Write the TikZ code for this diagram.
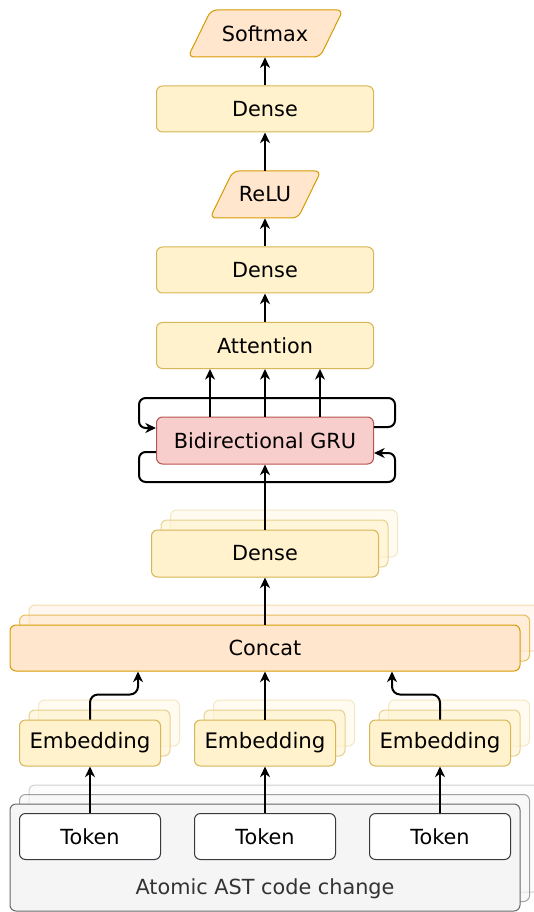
\documentclass[tikz,border=0pt]{standalone}
\usepackage{fontspec}
\setmainfont{DejaVu Sans}
\usetikzlibrary{arrows.meta,calc}

\definecolor{yelFill}{HTML}{FFF2CC}
\definecolor{yelLine}{HTML}{D6B656}
\definecolor{orgFill}{HTML}{FFE6CC}
\definecolor{orgLine}{HTML}{D79B00}
\definecolor{redFill}{HTML}{F8CECC}
\definecolor{redLine}{HTML}{B85450}
\definecolor{grayFill}{HTML}{F5F5F5}
\definecolor{grayLine}{HTML}{666666}
\definecolor{grayText}{HTML}{333333}
\definecolor{tokLine}{HTML}{36393D}

\tikzset{
  base/.style={rectangle, rounded corners=4.5pt, line width=0.75pt, inner sep=0pt,
    font=\fontsize{15.6}{18}\selectfont, text=black},
  yel/.style={base, fill=yelFill, draw=yelLine},
  org/.style={base, fill=orgFill, draw=orgLine},
  red/.style={base, fill=redFill, draw=redLine},
  gry/.style={base, fill=grayFill, draw=grayLine},
  tok/.style={base, fill=white, draw=tokLine},
  midlayer/.style={fill opacity=0.6, draw opacity=0.6},
  backlayer/.style={fill opacity=0.3, draw opacity=0.3},
  widebox/.style={minimum width=162.75pt, minimum height=34.5pt},
  embsize/.style={minimum width=105.75pt, minimum height=34.5pt},
  catsize/.style={minimum width=382.5pt, minimum height=34.5pt},
  densesize/.style={minimum width=170.25pt, minimum height=35.25pt},
  astsize/.style={minimum width=382.5pt, minimum height=80.25pt},
  paraline/.style={fill=orgFill, draw=orgLine, line width=0.75pt, rounded corners=4.5pt},
  textonly/.style={rectangle, inner sep=0pt, font=\fontsize{15.6}{18}\selectfont},
  arrow/.style={line width=1.5pt, -{Stealth[length=8pt,width=7.5pt,inset=2.5pt]}},
  loop/.style={arrow, rounded corners=5pt},
}

\begin{document}
\begin{tikzpicture}[x=0.75pt,y=-0.75pt]
\useasboundingbox (0,0) rectangle (534,912);

% ---- output head ----
\draw[paraline] (188,57) -- (320,57) -- (343,10) -- (211,10) -- cycle;
\node[textonly, minimum width=99pt, minimum height=35.25pt] (softmax) at (265,33.5) {Softmax};
\node[yel, widebox] (dense1) at (265,109) {Dense};
\draw[paraline] (210,218) -- (298,218) -- (321,171) -- (233,171) -- cycle;
\node[textonly, minimum width=66pt, minimum height=35.25pt] (relu) at (265,194.5) {ReLU};
\node[yel, widebox] (dense2) at (265,270) {Dense};
\node[yel, widebox] (att) at (265,345.5) {Attention};
\node[red, widebox, minimum height=35.25pt] (gru) at (265,440.5) {Bidirectional GRU};

\draw[arrow] (dense1.north) -- (softmax.south);
\draw[arrow] (relu.north) -- (dense1.south);
\draw[arrow] (dense2.north) -- (relu.south);
\draw[arrow] (att.north) -- (dense2.south);

% recurrent loops around the GRU
\draw[loop] ($(gru.east)+(0,-13.5)$) -- ++(21,0) -- ++(0,-29) -- ($(gru.west)+(-17,-42.5)$)
  -- ($(gru.west)+(-17,-12.5)$) -- ($(gru.west)+(0,-12.5)$);
\draw[loop] ($(gru.west)+(0,11.5)$) -- ++(-17,0) -- ++(0,30) -- ($(gru.east)+(21,41.5)$)
  -- ($(gru.east)+(21,12.5)$) -- ($(gru.east)+(0,12.5)$);

\draw[arrow] ($(gru.north)+(-55,0)$) -- ($(att.south)+(-55,0)$);
\draw[arrow] (gru.north) -- (att.south);
\draw[arrow] ($(gru.north)+(55,0)$) -- ($(att.south)+(55,0)$);

% ---- stacked dense ----
\node[yel, densesize, backlayer] (dense3c) at (284,533.5) {};
\node[yel, densesize, midlayer] (dense3b) at (274.5,543.5) {};
\node[yel, densesize] (dense3) at (265,553.5) {Dense};
\draw[arrow] (dense3.north) -- (gru.south);

% ---- stacked concat ----
\node[org, catsize, backlayer] (concatc) at (284,628) {};
\node[org, catsize, midlayer] (concatb) at (274.5,638) {};
\node[org, catsize] (concat) at (265,648) {Concat};
\draw[arrow] (concat.north) -- (dense3.south);

% ---- stacked embeddings ----
\foreach \n/\cx in {1/90, 2/265, 3/440}{
  \node[yel, embsize, backlayer] (emb\n c) at (\cx+19,723) {};
  \node[yel, embsize, midlayer] (emb\n b) at (\cx+9.5,733) {};
  \node[yel, embsize, font=\fontsize{16}{18}\selectfont] (emb\n) at (\cx,743) {Embedding};
}
\draw[arrow, rounded corners=6pt] (emb1.north) -- ++(0,-25) -| ($(concat.south)+(-127,0)$);
\draw[arrow] (emb2.north) -- (concat.south);
\draw[arrow, rounded corners=6pt] (emb3.north) -- ++(0,-25) -| ($(concat.south)+(127,0)$);

% ---- atomic change container ----
\node[gry, astsize, backlayer] (astc) at (284,838.5) {};
\node[gry, astsize, midlayer] (astb) at (274.5,848) {};
\node[gry, astsize] (ast) at (265,857.5) {};
\node[textonly, text=grayText] (astlabel) at (265,889) {Atomic AST code change};

\foreach \n/\cx in {1/90, 2/265, 3/440}{
  \node[tok, embsize] (tok\n) at (\cx,836.5) {Token};
  \draw[arrow] (tok\n.north) -- (emb\n.south);
}
\end{tikzpicture}
\end{document}
